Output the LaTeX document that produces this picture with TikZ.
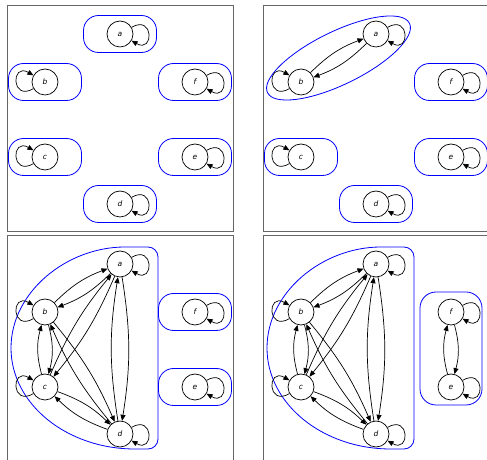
\documentclass[tikz,border=0pt]{standalone}
\usepackage{fontspec}
\setsansfont{DejaVu Sans}
\usetikzlibrary{arrows.meta}
\begin{document}
\begin{tikzpicture}[x=1pt,y=1pt,
  state/.style={draw,circle,minimum size=26pt,inner sep=0pt,line width=0.7pt,
    font=\sffamily\itshape\fontsize{7.5}{8}\selectfont},
  edge/.style={line width=0.7pt,-{Triangle[length=6pt,width=5pt]}},
  loopr/.style={out=30,in=-30,looseness=5},
  loopl/.style={out=210,in=150,looseness=5},
  box/.style={blue,line width=0.8pt},
  frame/.style={black!60,line width=1pt}]
\useasboundingbox (0,0) rectangle (487,460);
\clip (0,0) rectangle (487,460);

% every state on its own
\begin{scope}
\draw[frame] (7,228) rectangle (233,454);
\node[state] (a1) at (120,426) {a};
\node[state] (b1) at (45,378) {b};
\node[state] (f1) at (195,378) {f};
\node[state] (c1) at (45,303) {c};
\node[state] (e1) at (195,303) {e};
\node[state] (d1) at (120,256) {d};
\foreach \n in {a1,b1,c1,d1,e1,f1}
  \draw[box,rounded corners=15pt] (\n.center) +(-36.5,-18.5) rectangle +(36.5,18.5);
\foreach \n in {a1,d1,e1,f1}
  \draw[edge] (\n) to[loopr] (\n);
\foreach \n in {b1,c1}
  \draw[edge] (\n) to[loopl] (\n);
\end{scope}

% a and b joined
\begin{scope}[shift={(256,0)}]
\draw[frame] (7,228) rectangle (233,454);
\node[state] (a2) at (120,426) {a};
\node[state] (b2) at (45,378) {b};
\node[state] (f2) at (195,378) {f};
\node[state] (c2) at (45,303) {c};
\node[state] (e2) at (195,303) {e};
\node[state] (d2) at (120,256) {d};
\draw[box,rotate around={26:(82.5,402)}] (82.5,402) ellipse (79 and 26.5);
\foreach \n in {c2,d2,e2,f2}
  \draw[box,rounded corners=15pt] (\n.center) +(-36.5,-18.5) rectangle +(36.5,18.5);
\foreach \n in {a2,d2,e2,f2}
  \draw[edge] (\n) to[loopr] (\n);
\foreach \n in {b2,c2}
  \draw[edge] (\n) to[loopl] (\n);
\draw[edge] (a2) to[bend left=12] (b2);
\draw[edge] (b2) to[bend left=12] (a2);
\end{scope}

% a, b, c, d joined
\begin{scope}[shift={(0,-230)}]
\draw[frame] (7,228) rectangle (233,454);
\node[state] (a3) at (120,426) {a};
\node[state] (b3) at (45,378) {b};
\node[state] (f3) at (195,378) {f};
\node[state] (c3) at (45,303) {c};
\node[state] (e3) at (195,303) {e};
\node[state] (d3) at (120,256) {d};
\draw[box,rounded corners=10pt] (135,241) -- (158,241) -- (158,443) -- (135,443)
  arc[start angle=90,end angle=270,x radius=124,y radius=101];
\foreach \n in {e3,f3}
  \draw[box,rounded corners=15pt] (\n.center) +(-36.5,-18.5) rectangle +(36.5,18.5);
\foreach \n in {a3,d3,e3,f3}
  \draw[edge] (\n) to[loopr] (\n);
\foreach \n in {b3,c3}
  \draw[edge] (\n) to[loopl] (\n);
\foreach \u/\v/\bnd in {a3/b3/12,b3/c3/15,c3/d3/12,a3/c3/8,b3/d3/8,a3/d3/9} {
  \draw[edge] (\u) to[bend left=\bnd] (\v);
  \draw[edge] (\v) to[bend left=\bnd] (\u);
}
\end{scope}

% e and f joined as well
\begin{scope}[shift={(256,-230)}]
\draw[frame] (7,228) rectangle (233,454);
\node[state] (a4) at (120,426) {a};
\node[state] (b4) at (45,378) {b};
\node[state] (f4) at (195,378) {f};
\node[state] (c4) at (45,303) {c};
\node[state] (e4) at (195,303) {e};
\node[state] (d4) at (120,256) {d};
\draw[box,rounded corners=10pt] (135,241) -- (158,241) -- (158,443) -- (135,443)
  arc[start angle=90,end angle=270,x radius=124,y radius=101];
\draw[box,rounded corners=16pt] (164,285) rectangle (226,398);
\foreach \n in {a4,d4,e4,f4}
  \draw[edge] (\n) to[loopr] (\n);
\foreach \n in {b4,c4}
  \draw[edge] (\n) to[loopl] (\n);
\foreach \u/\v/\bnd in {a4/b4/12,b4/c4/15,c4/d4/12,a4/c4/8,b4/d4/8,a4/d4/9,f4/e4/15} {
  \draw[edge] (\u) to[bend left=\bnd] (\v);
  \draw[edge] (\v) to[bend left=\bnd] (\u);
}
\end{scope}

\end{tikzpicture}
\end{document}
